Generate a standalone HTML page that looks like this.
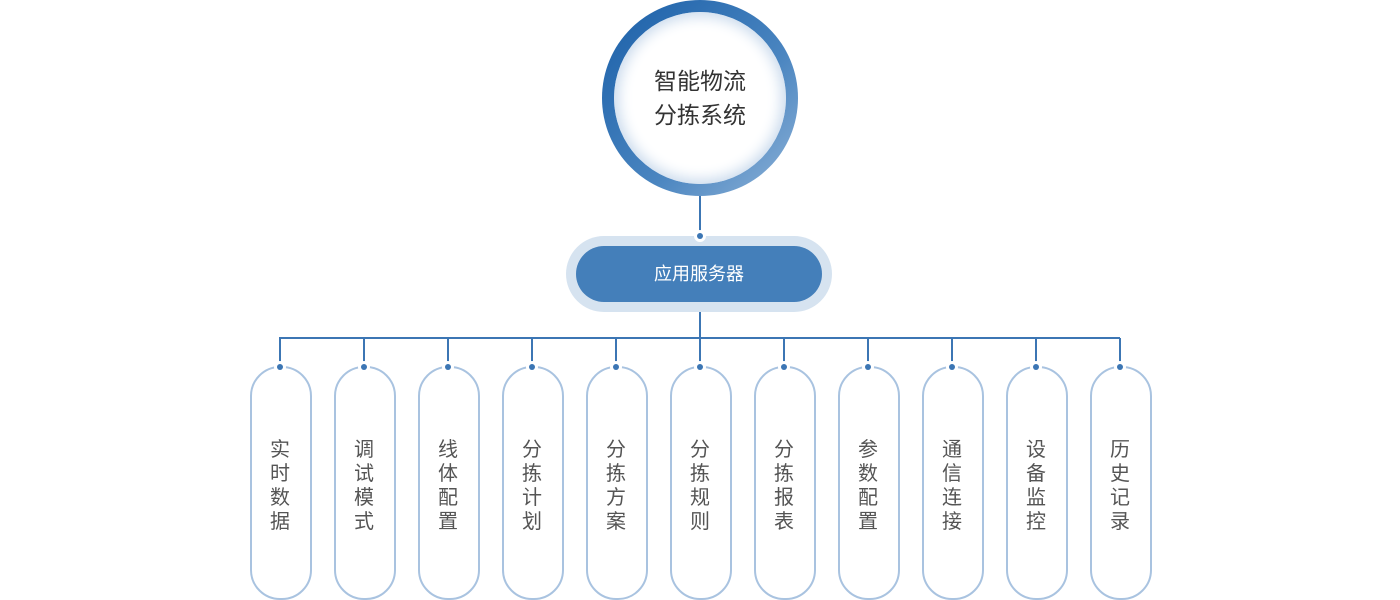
<!DOCTYPE html>
<html><head><meta charset="utf-8"><style>
body{margin:0;width:1400px;height:600px;background:#fff;overflow:hidden;font-family:"Liberation Sans","Noto Sans CJK SC",sans-serif;}
.a{position:absolute;}
.pill{position:absolute;top:366px;width:58px;height:230px;border:2px solid #a9c3e0;border-radius:30px;box-sizing:content-box;}
.pt{position:absolute;top:438px;width:60px;text-align:center;font-size:20px;line-height:24px;color:#555;}
.dot{position:absolute;width:6px;height:6px;border-radius:50%;background:#3c76b4;box-shadow:0 0 0 3px #fff;}
</style></head><body>
<div class="a" style="left:602px;top:0;width:196px;height:196px;border-radius:50%;background:linear-gradient(135deg,#1a5fa8,#4a85c0 60%,#8fb3d8);"></div>
<div class="a" style="left:614px;top:12px;width:172px;height:172px;border-radius:50%;background:#fff;box-shadow:inset 0 0 14px 4px #c8d9ec;"></div>
<div class="a" style="left:614px;top:64px;width:172px;text-align:center;font-size:23px;line-height:34px;color:#333;">智能物流<br>分拣系统</div>
<div class="a" style="left:699px;top:196px;width:2px;height:40px;background:#3c76b4;"></div>
<div class="a" style="left:566px;top:236px;width:266px;height:76px;border-radius:38px;background:#d6e3f0;"></div>
<div class="a" style="left:576px;top:246px;width:246px;height:56px;border-radius:28px;background:#447fba;color:#fff;font-size:18px;line-height:56px;text-align:center;">应用服务器</div>
<div class="dot" style="left:697px;top:233px;"></div>
<div class="a" style="left:699px;top:312px;width:2px;height:26px;background:#3c76b4;"></div>
<div class="a" style="left:279px;top:337px;width:841px;height:2px;background:#3c76b4;"></div>
<div id="c"></div>
<script>
var t=["实时数据","调试模式","线体配置","分拣计划","分拣方案","分拣规则","分拣报表","参数配置","通信连接","设备监控","历史记录"],h="";
for(var i=0;i<11;i++){var x=280+84*i;
h+='<div class="pill" style="left:'+(x-30)+'px"></div>';
h+='<div class="a" style="left:'+(x-1)+'px;top:338px;width:2px;height:28px;background:#3c76b4"></div>';
h+='<div class="dot" style="left:'+(x-3)+'px;top:364px"></div>';
h+='<div class="pt" style="left:'+(x-30)+'px">'+t[i].split("").join("<br>")+'</div>';}
document.getElementById("c").innerHTML=h;
</script>
</body></html>
